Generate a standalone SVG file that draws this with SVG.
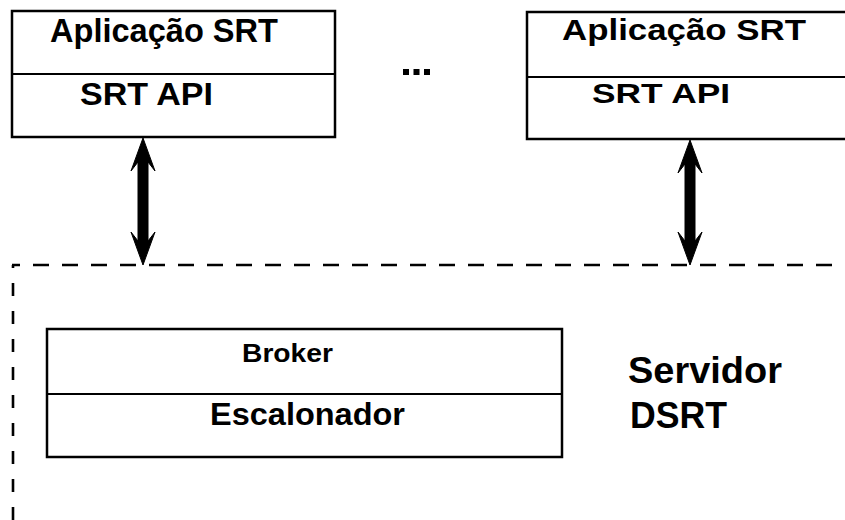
<svg xmlns="http://www.w3.org/2000/svg" width="845" height="520" viewBox="0 0 845 520">
  <style>
    .box { fill: none; stroke: #000; stroke-width: 2.5; }
    .sep { stroke: #000; stroke-width: 2.2; }
    .lbl { font-family: "Liberation Sans", Arial, Helvetica, sans-serif; font-weight: bold; fill: #000; }
    .dash { fill: none; stroke: #000; stroke-width: 2.6; }
    .arrow { fill: #000; stroke: #000; stroke-width: 1; stroke-linejoin: miter; }
  </style>
  <rect width="845" height="520" fill="#fff"/>

  <!-- Client application on the left -->
  <g id="app-left">
    <rect class="box" x="12" y="11" width="323" height="126"/>
    <line class="sep" x1="12" y1="74" x2="335" y2="74"/>
    <text class="lbl" x="50" y="42" font-size="33" textLength="228" lengthAdjust="spacingAndGlyphs">Aplicação SRT</text>
    <text class="lbl" x="80" y="105" font-size="32" textLength="133" lengthAdjust="spacingAndGlyphs">SRT API</text>
  </g>

  <!-- Ellipsis between the applications -->
  <g id="ellipsis">
    <rect x="403" y="69" width="6" height="6"/>
    <rect x="413.5" y="69" width="6" height="6"/>
    <rect x="424" y="69" width="6" height="6"/>
  </g>

  <!-- Client application on the right (runs off the edge) -->
  <g id="app-right">
    <path class="box" d="M845,12 H527 V139 H845"/>
    <line class="sep" x1="527" y1="77" x2="845" y2="77"/>
    <text class="lbl" x="562" y="40" font-size="29" textLength="244" lengthAdjust="spacingAndGlyphs">Aplicação SRT</text>
    <text class="lbl" x="592" y="103" font-size="28" textLength="138" lengthAdjust="spacingAndGlyphs">SRT API</text>
  </g>

  <!-- Server boundary (dashed) -->
  <g id="server">
    <line class="dash" x1="12" y1="265" x2="845" y2="265" stroke-dasharray="16 13" stroke-dashoffset="8"/>
    <line class="dash" x1="13" y1="265" x2="13" y2="520" stroke-dasharray="13 15" stroke-dashoffset="-18"/>
    <text class="lbl" x="628" y="383" font-size="37" textLength="154" lengthAdjust="spacingAndGlyphs">Servidor</text>
    <text class="lbl" x="630" y="428" font-size="37" textLength="97" lengthAdjust="spacingAndGlyphs">DSRT</text>
  </g>

  <!-- Broker / scheduler block -->
  <g id="broker">
    <rect class="box" x="47" y="329" width="515" height="128"/>
    <line class="sep" x1="47" y1="394" x2="562" y2="394"/>
    <text class="lbl" x="242" y="362" font-size="26" textLength="91" lengthAdjust="spacingAndGlyphs">Broker</text>
    <text class="lbl" x="210" y="425" font-size="31" textLength="195" lengthAdjust="spacingAndGlyphs">Escalonador</text>
  </g>

  <!-- Bidirectional connectors -->
  <g id="connectors">
    <polygon class="arrow" points="143,138 155,171 148,162 148,241 155,232 143,265 131,232 138,241 138,162 131,171"/>
    <polygon class="arrow" points="690,140 702,173 695,164 695,241 702,232 690,265 678,232 685,241 685,164 678,173"/>
  </g>
</svg>
